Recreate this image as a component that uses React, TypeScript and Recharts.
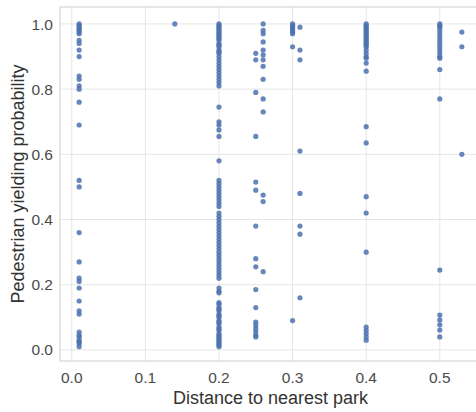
import React from 'react';
import { ScatterChart, Scatter, XAxis, YAxis, CartesianGrid, ReferenceLine, Label } from 'recharts';

// Distance to the nearest park (km) for each group of crossings
const distances = [0.01, 0.14, 0.2, 0.25, 0.26, 0.3, 0.31, 0.4, 0.5, 0.53];

// Pedestrian yielding probability observed at each distance
const yieldAt001 = [
  1.0, 0.995, 0.99, 0.985, 0.98, 0.975, 0.97, 0.95, 0.94, 0.92, 0.9, 0.84, 0.83, 0.81, 0.8, 0.76, 0.69,
  0.52, 0.5, 0.36, 0.27, 0.22, 0.21, 0.19, 0.15, 0.12, 0.11, 0.055, 0.045, 0.04, 0.03, 0.025, 0.02, 0.01,
];
const yieldAt014 = [1.0];
const yieldAt020 = [
  1.0, 0.995, 0.99, 0.985, 0.98, 0.975, 0.97, 0.965, 0.96, 0.955, 0.95, 0.94, 0.935, 0.93, 0.92, 0.915,
  0.91, 0.9, 0.89, 0.88, 0.87, 0.86, 0.85, 0.84, 0.83, 0.82, 0.81, 0.745, 0.7, 0.69, 0.675, 0.655, 0.58,
  0.52, 0.51, 0.5, 0.49, 0.48, 0.47, 0.46, 0.45, 0.44, 0.42, 0.41, 0.4, 0.39, 0.38, 0.37, 0.36, 0.35,
  0.34, 0.33, 0.32, 0.31, 0.3, 0.29, 0.28, 0.27, 0.26, 0.25, 0.24, 0.23, 0.22, 0.19, 0.18, 0.175, 0.145,
  0.14, 0.13, 0.125, 0.12, 0.11, 0.105, 0.1, 0.09, 0.085, 0.08, 0.07, 0.065, 0.06, 0.05, 0.045, 0.04,
  0.035, 0.03, 0.025, 0.02, 0.015, 0.01,
];
const yieldAt025 = [
  0.91, 0.89, 0.79, 0.655, 0.515, 0.49, 0.38, 0.28, 0.255, 0.185, 0.13, 0.085, 0.075, 0.065, 0.055, 0.045,
  0.04,
];
const yieldAt026 = [1.0, 0.98, 0.97, 0.945, 0.92, 0.905, 0.89, 0.87, 0.83, 0.77, 0.73, 0.475, 0.455, 0.24];
const yieldAt030 = [1.0, 0.995, 0.99, 0.985, 0.98, 0.975, 0.97, 0.93, 0.09];
const yieldAt031 = [0.99, 0.92, 0.89, 0.61, 0.48, 0.38, 0.355, 0.16];
const yieldAt040 = [
  1.0, 0.995, 0.99, 0.985, 0.98, 0.975, 0.97, 0.965, 0.96, 0.955, 0.95, 0.945, 0.94, 0.935, 0.93, 0.92,
  0.91, 0.9, 0.895, 0.88, 0.855, 0.685, 0.635, 0.47, 0.42, 0.3, 0.07, 0.06, 0.05, 0.04, 0.03,
];
const yieldAt050 = [
  1.0, 0.995, 0.99, 0.98, 0.97, 0.96, 0.95, 0.94, 0.93, 0.92, 0.91, 0.9, 0.895, 0.86, 0.77, 0.245, 0.107,
  0.092, 0.077, 0.061, 0.04,
];
const yieldAt053 = [0.975, 0.93, 0.6];

const yieldGroups = [
  yieldAt001, yieldAt014, yieldAt020, yieldAt025, yieldAt026,
  yieldAt030, yieldAt031, yieldAt040, yieldAt050, yieldAt053,
];

const xTicks = [0, 0.1, 0.2, 0.3, 0.4, 0.5];
const yTicks = [0, 0.2, 0.4, 0.6, 0.8, 1.0];

const points = distances.flatMap((d, i) =>
  yieldGroups[i].map((p) => ({ distance: d, probability: p }))
);

const X_DOMAIN: [number, number] = [-0.016, 0.556];
const Y_DOMAIN: [number, number] = [-0.034, 1.052];

const FONT = '"Liberation Sans", Arial, sans-serif';
const GRID = '#e6e6e6';
const SPINE = '#d9d9d9';
const DOT = '#4c72b0';

const XTick = (props: any) => {
  const { x, y, payload } = props;
  return (
    <text x={x} y={y + 22} textAnchor="middle" fontSize={15.5} fontFamily={FONT} fill="#4a4a4a">
      {Number(payload.value).toFixed(1)}
    </text>
  );
};

const YTick = (props: any) => {
  const { x, y, payload } = props;
  return (
    <text x={x - 7} y={y} dy="0.36em" textAnchor="end" fontSize={15.5} fontFamily={FONT} fill="#4a4a4a">
      {Number(payload.value).toFixed(1)}
    </text>
  );
};

const XLabel = (props: any) => {
  const vb = props.viewBox;
  const cx = vb.x + vb.width / 2;
  return (
    <text x={cx} y={vb.y + 43} textAnchor="middle" fontSize={18} fontFamily={FONT} fill="#333">
      Distance to nearest park
    </text>
  );
};

const YLabel = (props: any) => {
  const vb = props.viewBox;
  const cx = vb.x + 18;
  const cy = vb.y + vb.height / 2;
  return (
    <text
      x={cx}
      y={cy}
      dy="0.35em"
      transform={`rotate(-90 ${cx} ${cy})`}
      textAnchor="middle"
      fontSize={18}
      fontFamily={FONT}
      fill="#333"
    >
      Pedestrian yielding probability
    </text>
  );
};

const Dot = (props: any) => (
  <circle cx={props.cx} cy={props.cy} r={2.6} fill={DOT} fillOpacity={0.85} />
);

export default function App() {
  return (
    <div
      style={{
        position: 'absolute',
        left: 0,
        top: 0,
        width: 476,
        height: 412,
        overflow: 'hidden',
        background: '#fff',
      }}
    >
      <ScatterChart width={481} height={412} margin={{ top: 7, right: 0, bottom: 0, left: 0 }}>
        <CartesianGrid stroke={GRID} strokeWidth={1} />
        <XAxis
          type="number"
          dataKey="distance"
          domain={X_DOMAIN}
          ticks={xTicks}
          allowDataOverflow
          height={51}
          tickLine={false}
          tickSize={0}
          tickMargin={0}
          axisLine={{ stroke: SPINE }}
          tick={<XTick />}
        >
          <Label content={<XLabel />} />
        </XAxis>
        <YAxis
          type="number"
          dataKey="probability"
          domain={Y_DOMAIN}
          ticks={yTicks}
          allowDataOverflow
          width={60}
          tickLine={false}
          tickSize={0}
          tickMargin={0}
          axisLine={{ stroke: SPINE }}
          tick={<YTick />}
        >
          <Label content={<YLabel />} />
        </YAxis>
        <ReferenceLine y={Y_DOMAIN[1]} stroke={SPINE} />
        <Scatter data={points} shape={<Dot />} isAnimationActive={false} />
      </ScatterChart>
    </div>
  );
}
